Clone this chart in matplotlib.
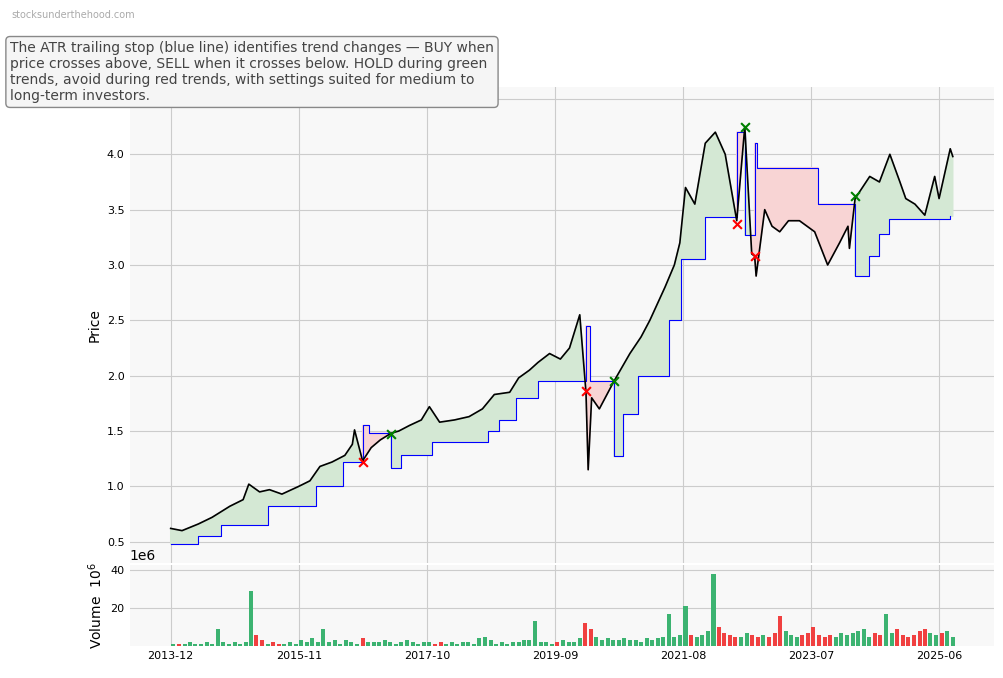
import numpy as np
import pandas as pd
import matplotlib
matplotlib.use("Agg")
import matplotlib.pyplot as plt
import matplotlib.dates as mdates

# price keypoints
price_dates = [
    "2013-12-01", "2014-02-01", "2014-05-01", "2014-07-15", "2014-10-20", "2015-01-01",
    "2015-02-01", "2015-04-01", "2015-05-25", "2015-08-01", "2015-11-01", "2016-01-01",
    "2016-02-25", "2016-05-01", "2016-07-10", "2016-08-20", "2016-09-01", "2016-10-15",
    "2016-12-01", "2017-01-20", "2017-03-20", "2017-05-01", "2017-06-28", "2017-09-01",
    "2017-10-15", "2017-12-10", "2018-03-01", "2018-05-20", "2018-08-01", "2018-10-05",
    "2018-12-28", "2019-02-15", "2019-04-15", "2019-06-01", "2019-08-03", "2019-10-01",
    "2019-11-20", "2020-01-15", "2020-02-18", "2020-03-01", "2020-03-20", "2020-05-01",
    "2020-07-20", "2020-10-15", "2020-12-15", "2021-02-01", "2021-04-25", "2021-06-15",
    "2021-07-15", "2021-08-15", "2021-10-05", "2021-12-01", "2022-01-25", "2022-03-20",
    "2022-05-22", "2022-07-05", "2022-08-12", "2022-08-28", "2022-09-05", "2022-10-22",
    "2022-12-01", "2023-01-12", "2023-03-01", "2023-04-30", "2023-07-22", "2023-10-01",
    "2023-12-05", "2024-01-20", "2024-01-28", "2024-02-28", "2024-05-18", "2024-07-10",
    "2024-09-05", "2024-10-30", "2024-12-01", "2025-01-20", "2025-03-15", "2025-05-08",
    "2025-06-01", "2025-08-01", "2025-08-15",
]
price_values = [
    0.62, 0.60, 0.66, 0.72, 0.82, 0.88,
    1.02, 0.95, 0.97, 0.93, 1.00, 1.05,
    1.18, 1.22, 1.28, 1.38, 1.51, 1.23,
    1.35, 1.42, 1.48, 1.50, 1.55, 1.60,
    1.72, 1.58, 1.60, 1.63, 1.70, 1.83,
    1.85, 1.98, 2.05, 2.12, 2.20, 2.15,
    2.25, 2.55, 1.85, 1.15, 1.80, 1.70,
    1.95, 2.20, 2.35, 2.50, 2.80, 3.00,
    3.20, 3.70, 3.55, 4.10, 4.20, 4.00,
    3.40, 4.25, 3.10, 3.08, 2.90, 3.50,
    3.35, 3.30, 3.40, 3.40, 3.30, 3.00,
    3.20, 3.35, 3.15, 3.60, 3.80, 3.75,
    4.00, 3.75, 3.60, 3.55, 3.45, 3.80,
    3.60, 4.05, 3.98,
]

# ATR trailing stop levels (step changes)
stop_dates = [
    "2013-12-01", "2014-05-01", "2014-09-01", "2015-05-15", "2016-02-01", "2016-07-01",
    "2016-10-15", "2016-11-20", "2017-03-20", "2017-05-15", "2017-11-01", "2018-09-01",
    "2018-11-01", "2019-02-01", "2019-06-01", "2020-02-18", "2020-03-10", "2020-07-20",
    "2020-09-10", "2020-12-01", "2021-05-15", "2021-07-20", "2021-12-01", "2022-05-22",
    "2022-07-05", "2022-08-28", "2022-09-10", "2023-08-10", "2024-02-28", "2024-05-15",
    "2024-07-10", "2024-09-01", "2025-08-01",
]
stop_values = [
    0.48, 0.55, 0.65, 0.82, 1.00, 1.22,
    1.55, 1.48, 1.17, 1.28, 1.40, 1.50,
    1.60, 1.80, 1.95, 2.45, 1.95, 1.27,
    1.65, 2.00, 2.50, 3.05, 3.43, 4.20,
    3.27, 4.10, 3.88, 3.55, 2.90, 3.08,
    3.28, 3.42, 3.44,
]

sell_dates = ["2016-10-15", "2020-02-18", "2022-05-22", "2022-08-28"]
sell_prices = [1.22, 1.86, 3.37, 3.08]
buy_dates = ["2017-03-20", "2020-07-20", "2022-07-05", "2024-02-28"]
buy_prices = [1.47, 1.95, 4.25, 3.62]

# monthly volume in millions, 2013-12 .. 2025-08
volume_m = [
    1,
    1, 1, 2, 1, 1, 2, 1, 9, 2, 1, 2, 1,
    2, 29, 6, 3, 1, 2, 1, 1, 2, 1, 3, 2,
    4, 2, 9, 2, 3, 1, 3, 2, 1, 4, 2, 2,
    2, 3, 2, 1, 2, 3, 2, 1, 2, 2, 1, 2,
    1, 2, 1, 2, 2, 1, 4, 5, 3, 1, 2, 1,
    2, 2, 3, 3, 13, 2, 2, 1, 2, 3, 2, 2,
    4, 12, 9, 5, 3, 4, 3, 3, 4, 3, 3, 2,
    4, 3, 4, 5, 17, 5, 6, 21, 6, 5, 6, 8,
    38, 10, 7, 6, 5, 5, 7, 6, 5, 6, 5, 7,
    16, 8, 6, 5, 6, 7, 10, 6, 5, 6, 5, 7,
    6, 7, 8, 9, 5, 7, 6, 17, 7, 9, 6, 5,
    6, 8, 9, 7, 6, 7, 8, 5,
]

NOTE = ("The ATR trailing stop (blue line) identifies trend changes \u2014 BUY when\n"
        "price crosses above, SELL when it crosses below. HOLD during green\n"
        "trends, avoid during red trends, with settings suited for medium to\n"
        "long-term investors.")

price = pd.Series(price_values, index=pd.to_datetime(price_dates))
stop = pd.Series(stop_values, index=pd.to_datetime(stop_dates))
vol_idx = pd.date_range("2013-12-01", periods=len(volume_m), freq="MS") + pd.Timedelta(days=14)
volume = pd.Series(np.array(volume_m, dtype=float), index=vol_idx)

# common index for fill between price and stop
grid = pd.date_range(price.index[0], price.index[-1], freq="D")
p_grid = price.reindex(price.index.union(grid)).interpolate("time").reindex(grid)
s_grid = stop.reindex(stop.index.union(grid)).ffill().reindex(grid)

fig = plt.figure(figsize=(10.04, 6.78), dpi=100)
ax = fig.add_axes([0.129, 0.170, 0.861, 0.702])
axv = fig.add_axes([0.129, 0.047, 0.861, 0.120], sharex=ax)

for a in (ax, axv):
    a.set_facecolor("#f8f8f8")
    a.grid(True, color="#cccccc", linewidth=0.8)
    a.set_axisbelow(True)
    for s in a.spines.values():
        s.set_visible(False)
    a.tick_params(length=0, labelsize=8)

ax.fill_between(grid, p_grid, s_grid, where=p_grid >= s_grid, color="#d4e8d4", interpolate=True)
ax.fill_between(grid, p_grid, s_grid, where=p_grid < s_grid, color="#f8d4d4", interpolate=True)
ax.plot(stop.index, stop.values, color="blue", linewidth=0.8, drawstyle="steps-post")
ax.plot(price.index, price.values, color="black", linewidth=1.2)
ax.scatter(pd.to_datetime(sell_dates), sell_prices, marker="x", color="red", s=40, zorder=4)
ax.scatter(pd.to_datetime(buy_dates), buy_prices, marker="x", color="green", s=40, zorder=4)
ax.set_ylim(0.31, 4.61)
ax.set_ylabel("Price", fontsize=10)
plt.setp(ax.get_xticklabels(), visible=False)

ups = price.reindex(price.index.union(vol_idx)).interpolate("time").bfill()
up = ups.reindex(vol_idx).diff().fillna(0).values >= 0
colors = np.where(up, "#3cb371", "#f04040")
axv.bar(volume.index, volume.values, width=22, color=colors)
axv.set_ylim(0, 42.6)
axv.set_yticks([20, 40])
axv.set_ylabel("Volume  $10^6$", fontsize=10)
axv.text(0.0, 1.02, "1e6", transform=axv.transAxes, fontsize=10, va="bottom", ha="left")

ticks = pd.to_datetime(["2013-12-01", "2015-11-01", "2017-10-01", "2019-09-01",
                        "2021-08-01", "2023-07-01", "2025-06-01"])
axv.set_xticks(ticks)
axv.xaxis.set_major_formatter(mdates.DateFormatter("%Y-%m"))
axv.set_xlim(pd.Timestamp("2013-04-20"), pd.Timestamp("2026-03-28"))

fig.text(0.011, 0.985, "stocksunderthehood.com", fontsize=7, color="#aaaaaa", va="top")
fig.text(0.010, 0.940, NOTE, fontsize=10, color="#444444", va="top", zorder=10,
         bbox=dict(boxstyle="round,pad=0.3", facecolor="#f5f5f5", edgecolor="#888888"))

fig.savefig("out.png", dpi=100)
